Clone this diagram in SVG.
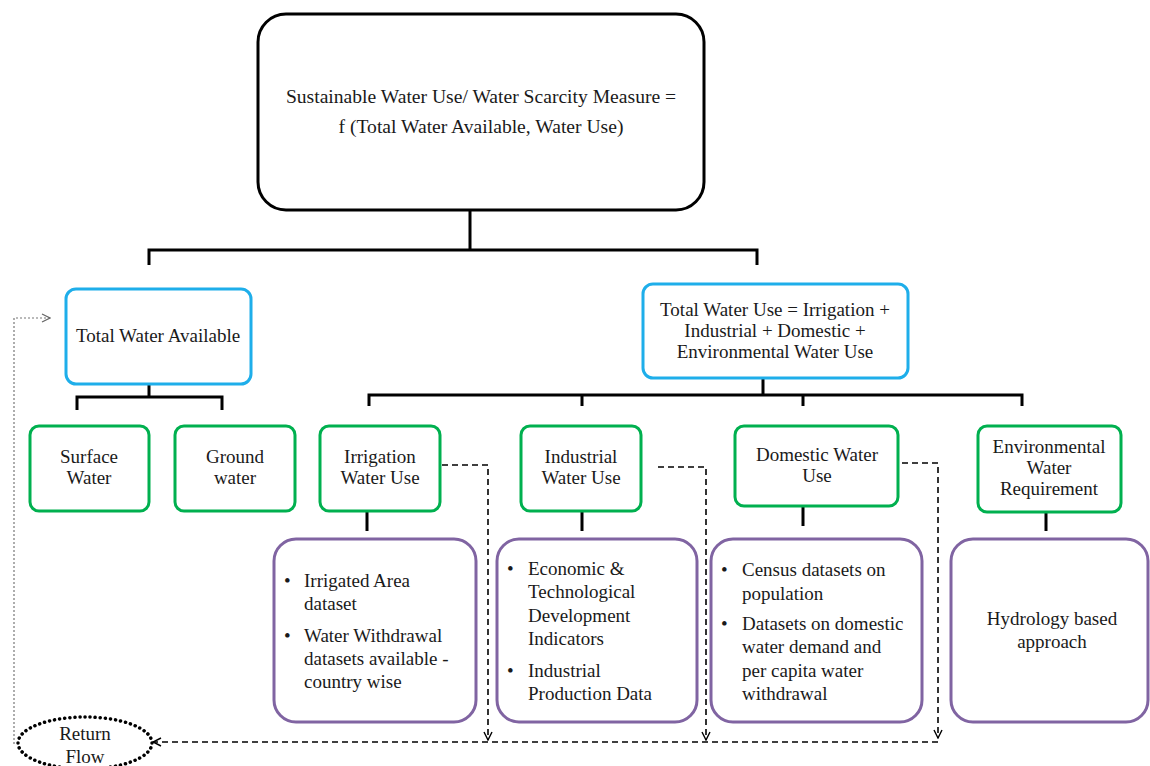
<svg xmlns="http://www.w3.org/2000/svg" width="1150" height="766" viewBox="0 0 1150 766" font-family="Liberation Serif, Times New Roman, DejaVu Serif, serif">
<style>
text{font-size:19px;fill:#1a1a1a}
.c{text-anchor:middle}
.big{font-size:19.6px}
.top{fill:#fff;stroke:#000;stroke-width:3}
.blue{fill:#fff;stroke:#1eaeea;stroke-width:3}
.green{fill:#fff;stroke:#00b04f;stroke-width:3}
.purple{fill:#fff;stroke:#8064a2;stroke-width:3}
.tree{fill:none;stroke:#000;stroke-width:3}
.dash{fill:none;stroke:#000;stroke-width:1.6;stroke-dasharray:6 4}
.dot{fill:none;stroke:#777;stroke-width:1.2;stroke-dasharray:2 2}
</style>
<defs>
<marker id="ah" viewBox="0 0 10 10" refX="9" refY="5" markerWidth="10" markerHeight="10" markerUnits="userSpaceOnUse" orient="auto">
<path d="M1,1 L9,5 L1,9" fill="none" stroke="#000" stroke-width="1.4"/>
</marker>
<marker id="ahg" viewBox="0 0 10 10" refX="9" refY="5" markerWidth="10" markerHeight="10" markerUnits="userSpaceOnUse" orient="auto">
<path d="M1,1 L9,5 L1,9" fill="none" stroke="#666" stroke-width="1.2"/>
</marker>
</defs>
<g id="connectors">
<path class="tree" d="M470,210 V250 M149,265 V250 H757 V265"/>
<path class="tree" d="M149,384 V397 M77,410 V397 H222 V410"/>
<path class="tree" d="M763,378 V395 M369,406 V395 H1022 V406 M582,395 V406 M803,395 V406"/>
<path class="tree" d="M367,512 V531 M582,512 V531 M803,507 V526 M1046,513 V531"/>
<path class="dash" d="M442,465 H488 V740" marker-end="url(#ah)"/>
<path class="dash" d="M658,467 H706 V740" marker-end="url(#ah)"/>
<path class="dash" d="M892,463 H938 V738" marker-end="url(#ah)"/>
<path class="dash" d="M938,742 H153" marker-end="url(#ah)"/>
<path class="dot" d="M14,744 V318 H50" marker-end="url(#ahg)"/>
</g>
<g id="n-top">
<rect class="top" x="258" y="14" width="446" height="196" rx="28"/>
<text class="c big" x="481" y="103">Sustainable Water Use/ Water Scarcity Measure =</text>
<text class="c big" x="481" y="133">f (Total Water Available,  Water Use)</text>
</g>
<g id="n-available">
<rect class="blue" x="66" y="289" width="185" height="95" rx="10"/>
<text class="c" x="158" y="342">Total Water Available</text>
</g>
<g id="n-use">
<rect class="blue" x="643" y="284" width="265" height="94" rx="10"/>
<text class="c" x="775" y="316">Total Water Use = Irrigation  +</text>
<text class="c" x="775" y="337">Industrial + Domestic +</text>
<text class="c" x="775" y="358">Environmental Water Use</text>
</g>
<g id="n-surface">
<rect class="green" x="30" y="426" width="119" height="85" rx="9"/>
<text class="c" x="89" y="463">Surface</text>
<text class="c" x="89" y="484">Water</text>
</g>
<g id="n-ground">
<rect class="green" x="175" y="426" width="120" height="85" rx="9"/>
<text class="c" x="235" y="463">Ground</text>
<text class="c" x="235" y="484">water</text>
</g>
<g id="n-irrigation">
<rect class="green" x="320" y="426" width="120" height="85" rx="9"/>
<text class="c" x="380" y="463">Irrigation</text>
<text class="c" x="380" y="484">Water Use</text>
</g>
<g id="n-industrial">
<rect class="green" x="521" y="426" width="120" height="85" rx="9"/>
<text class="c" x="581" y="463">Industrial</text>
<text class="c" x="581" y="484">Water Use</text>
</g>
<g id="n-domestic">
<rect class="green" x="735" y="426" width="163" height="80" rx="9"/>
<text class="c" x="817" y="461">Domestic Water</text>
<text class="c" x="817" y="482">Use</text>
</g>
<g id="n-environmental">
<rect class="green" x="978" y="426" width="143" height="86" rx="9"/>
<text class="c" x="1049" y="453">Environmental</text>
<text class="c" x="1049" y="474">Water</text>
<text class="c" x="1049" y="495">Requirement</text>
</g>
<g id="n-irr-data">
<rect class="purple" x="274" y="539" width="202" height="183" rx="22"/>
<text x="284" y="587">•</text><text x="304" y="587">Irrigated Area</text>
<text x="304" y="610">dataset</text>
<text x="284" y="642">•</text><text x="304" y="642">Water Withdrawal</text>
<text x="304" y="665">datasets available  -</text>
<text x="304" y="688">country wise</text>
</g>
<g id="n-ind-data">
<rect class="purple" x="497" y="539" width="200" height="183" rx="22"/>
<text x="507" y="575">•</text><text x="528" y="575">Economic &amp;</text>
<text x="528" y="598">Technological</text>
<text x="528" y="622">Development</text>
<text x="528" y="645">Indicators</text>
<text x="507" y="677">•</text><text x="528" y="677">Industrial</text>
<text x="528" y="700">Production Data</text>
</g>
<g id="n-dom-data">
<rect class="purple" x="711" y="539" width="211" height="183" rx="22"/>
<text x="721" y="576">•</text><text x="742" y="576">Census datasets on</text>
<text x="742" y="600">population</text>
<text x="721" y="630">•</text><text x="742" y="630">Datasets on domestic</text>
<text x="742" y="653">water demand and</text>
<text x="742" y="677">per capita water</text>
<text x="742" y="700">withdrawal</text>
</g>
<g id="n-env-data">
<rect class="purple" x="951" y="539" width="197" height="183" rx="22"/>
<text class="c" x="1052" y="625">Hydrology based</text>
<text class="c" x="1052" y="648">approach</text>
</g>
<g id="n-return">
<ellipse cx="85" cy="743" rx="67" ry="26" fill="#fff" stroke="#000" stroke-width="3.5" stroke-dasharray="0.1 5" stroke-linecap="round"/>
<text class="c" x="85" y="740">Return</text>
<text class="c" x="85" y="763">Flow</text>
</g>
</svg>
